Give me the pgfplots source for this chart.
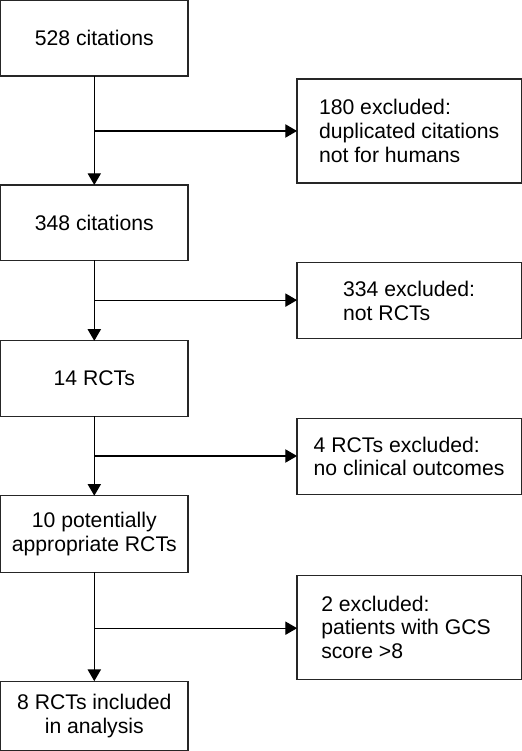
\documentclass[border=0pt]{standalone}
\usepackage{fontspec}
\setmainfont{Liberation Sans}
\usepackage{pgfplots}
\pgfplotsset{compat=1.18}
\usetikzlibrary{arrows.meta}
\begin{document}
\begin{tikzpicture}
\begin{axis}[width=531pt, height=751pt, scale only axis,
  xmin=0, xmax=531, ymin=0, ymax=751, y dir=reverse,
  axis lines=none, clip=false,
  bx/.style={black!85, solid, line width=1.1pt, mark=none, line cap=rect, line join=miter},
  ar/.style={black, solid, line width=1.2pt, mark=none, line cap=butt, -{Triangle[length=11.5pt,width=13pt]}},
  nodes={font=\fontsize{20.8}{23.3}\selectfont}]
% main boxes
\addplot[bx] coordinates {(11,14)(195,14)(195,88)(11,88)(11,14)};
\addplot[bx] coordinates {(11,195)(195,195)(195,269)(11,269)(11,195)};
\addplot[bx] coordinates {(11,348)(195,348)(195,422)(11,422)(11,348)};
\addplot[bx] coordinates {(11,500)(195,500)(195,575)(11,575)(11,500)};
\addplot[bx] coordinates {(11,682)(195,682)(195,750)(11,750)(11,682)};
% side boxes
\addplot[bx] coordinates {(302,91)(522,91)(522,193)(302,193)(302,91)};
\addplot[bx] coordinates {(302,271)(522,271)(522,346)(302,346)(302,271)};
\addplot[bx] coordinates {(302,424)(522,424)(522,499)(302,499)(302,424)};
\addplot[bx] coordinates {(302,578)(522,578)(522,680)(302,680)(302,578)};
% vertical arrows
\addplot[ar] coordinates {(103,88)(103,195)};
\addplot[ar] coordinates {(103,269)(103,348)};
\addplot[ar] coordinates {(103,422)(103,500)};
\addplot[ar] coordinates {(103,575)(103,682)};
% horizontal arrows
\addplot[ar] coordinates {(103,142)(302,142)};
\addplot[ar] coordinates {(103,308)(302,308)};
\addplot[ar] coordinates {(103,461)(302,461)};
\addplot[ar] coordinates {(103,630)(302,630)};
% texts
\node[align=center] at (axis cs:103,51) {528 citations};
\node[align=center] at (axis cs:103,232) {348 citations};
\node[align=center] at (axis cs:103,385) {14 RCTs};
\node[align=center] at (axis cs:103,537.5) {10 potentially\\appropriate RCTs};
\node[align=center] at (axis cs:103,716) {8 RCTs included\\in analysis};
\node[align=left] at (axis cs:412,142) {180 excluded:\\duplicated citations\\not for humans};
\node[align=left] at (axis cs:412,308.5) {334 excluded:\\not RCTs};
\node[align=left] at (axis cs:412,461.5) {4 RCTs excluded:\\no clinical outcomes};
\node[align=left] at (axis cs:409,629) {2 excluded:\\patients with GCS\\score >8};
\end{axis}
\end{tikzpicture}
\end{document}
